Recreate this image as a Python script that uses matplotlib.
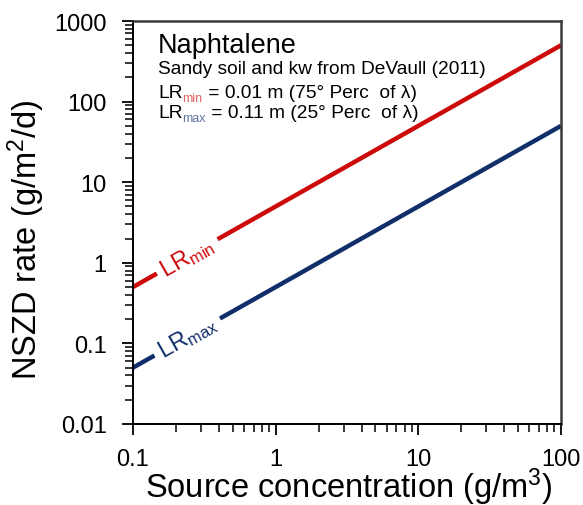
import numpy as np
import matplotlib
matplotlib.use("Agg")
import matplotlib.pyplot as plt

plt.rcParams['font.family'] = ['Liberation Sans', 'DejaVu Sans']
plt.rcParams['mathtext.default'] = 'regular'

# Source concentration (g/m3) and NSZD rates (g/m2/d) for the two reaction lengths
concentration = [0.1, 1, 10, 100]
rate_lr_min = [0.5, 5, 50, 500]
rate_lr_max = [0.05, 0.5, 5, 50]

x_ticks = [0.1, 1, 10, 100]
x_ticklabels = ['0.1', '1', '10', '100']
y_ticks = [0.01, 0.1, 1, 10, 100, 1000]
y_ticklabels = ['0.01', '0.1', '1', '10', '100', '1000']

RED = '#cc0a0a'
BLUE = '#102e6a'

fig = plt.figure(figsize=(5.83, 5.06), dpi=100)
ax = fig.add_axes([0.2281, 0.1601, 0.7342, 0.7964])

ax.plot(concentration, rate_lr_min, color=RED, lw=3.2, solid_capstyle='butt', zorder=2)
ax.plot(concentration, rate_lr_max, color=BLUE, lw=3.2, solid_capstyle='butt', zorder=2)

ax.set_xscale('log')
ax.set_yscale('log')
ax.set_xlim(0.1, 100)
ax.set_ylim(0.01, 1000)
ax.set_xticks(x_ticks)
ax.set_xticklabels(x_ticklabels)
ax.set_yticks(y_ticks)
ax.set_yticklabels(y_ticklabels)

ax.tick_params(axis='both', which='major', direction='out', length=8, width=1.3,
               labelsize=17)
ax.tick_params(axis='y', which='major', pad=11)
ax.tick_params(axis='x', which='major', pad=9)
ax.tick_params(axis='both', which='minor', direction='out', length=6, width=1.1)
for side in ('left', 'bottom'):
    ax.spines[side].set_linewidth(1.4)
    ax.spines[side].set_color('black')
for side in ('top', 'right'):
    ax.spines[side].set_linewidth(1.8)
    ax.spines[side].set_color('#3a3a3a')

ax.set_xlabel('Source concentration (g/m$^{3}$)', fontsize=23.5, va='baseline')
ax.set_ylabel('NSZD rate (g/m$^{2}$/d)', fontsize=23.5)
ax.xaxis.set_label_coords(0.505, -0.181)
ax.yaxis.set_label_coords(-0.2, 0.459)

# Line labels sitting in a gap of each line, rotated to follow the slope
def slope_angle(xs, ys):
    p0 = ax.transData.transform((xs[0], ys[0]))
    p1 = ax.transData.transform((xs[-1], ys[-1]))
    return np.degrees(np.arctan2(p1[1] - p0[1], p1[0] - p0[0]))

ang = slope_angle(concentration, rate_lr_min)
x_lab = 0.24
for rates, name, col in ((rate_lr_min, 'min', RED), (rate_lr_max, 'max', BLUE)):
    k = rates[0] / concentration[0]
    ax.text(x_lab, k * x_lab, r'LR$_{' + name + '}$', color=col, fontsize=17,
            rotation=ang, rotation_mode='anchor', ha='center', va='center',
            bbox=dict(boxstyle='square,pad=0.25', fc='white', ec='none'), zorder=3)

# Annotation block
x0 = 0.0584
ax.text(x0, 0.923, 'Naphtalene', transform=ax.transAxes, fontsize=19.5,
        va='baseline', ha='left')
ax.text(x0, 0.871, 'Sandy soil and kw from DeVaull (2011)', transform=ax.transAxes,
        fontsize=13.8, va='baseline', ha='left')

def lr_line(y, sub, sub_col, rest):
    t1 = ax.text(x0, y, 'LR', transform=ax.transAxes, fontsize=13.8,
                 va='baseline', ha='left')
    t2 = ax.annotate(sub, xy=(1, y), xycoords=(t1, 'axes fraction'),
                     xytext=(0, -3), textcoords='offset points',
                     fontsize=9, color=sub_col, va='baseline', ha='left')
    ax.annotate(rest, xy=(1, y), xycoords=(t2, 'axes fraction'),
                fontsize=13.8, va='baseline', ha='left')

lr_line(0.811, 'min', '#e06060', ' = 0.01 m (75° Perc  of λ)')
lr_line(0.762, 'max', '#6070a0', ' = 0.11 m (25° Perc  of λ)')

fig.savefig('out.png', dpi=100)
